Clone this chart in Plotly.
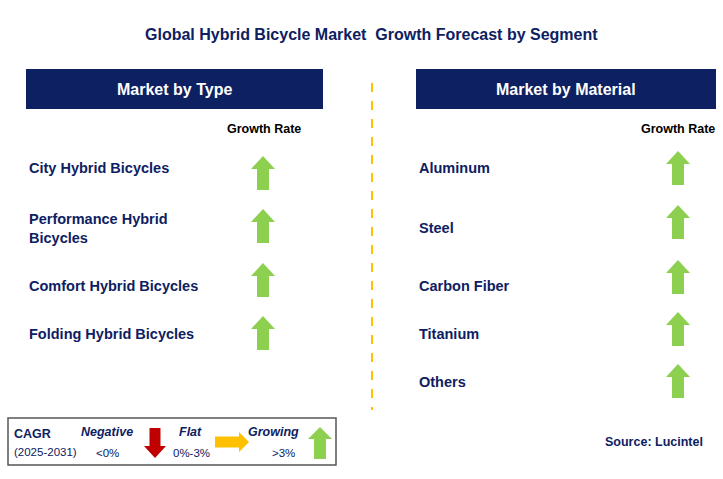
import plotly.graph_objects as go

title = "Global Hybrid Bicycle Market  Growth Forecast by Segment"
left_header = "Market by Type"
right_header = "Market by Material"
type_items = ["City Hybrid Bicycles", "Performance Hybrid<br>Bicycles", "Comfort Hybrid Bicycles", "Folding Hybrid Bicycles"]
type_trend = ["up", "up", "up", "up"]
material_items = ["Aluminum", "Steel", "Carbon Fiber", "Titanium", "Others"]
material_trend = ["up", "up", "up", "up", "up"]

NAVY = "#0d2061"
GREEN = "#8dd04f"
RED = "#c00000"
YEL = "#ffc000"
F = "Liberation Sans"

W, H = 723, 479
fig = go.Figure()
shapes, ann = [], []

def text(x, y, s, size=14, color=NAVY, bold=True, italic=False, xanchor="left", col=None):
    if bold: s = "<b>" + s + "</b>"
    if italic: s = "<i>" + s + "</i>"
    ann.append(dict(x=x, y=y, text=s, showarrow=False, xanchor=xanchor, yanchor="middle",
                    xshift=-2 if xanchor == "left" else (2 if xanchor == "right" else 0),
                    align="left", font=dict(family=F, size=size, color=col or color)))

def arrow(cx, cy, d, color, h=34, w=24, sw=12, hh=13):
    if d == "up":
        t, b = cy - h/2, cy + h/2
        p = f"M{cx},{t} L{cx+w/2},{t+hh} L{cx+sw/2},{t+hh} L{cx+sw/2},{b} L{cx-sw/2},{b} L{cx-sw/2},{t+hh} L{cx-w/2},{t+hh} Z"
    elif d == "down":
        t, b = cy - h/2, cy + h/2
        p = f"M{cx},{b} L{cx+w/2},{b-hh} L{cx+sw/2},{b-hh} L{cx+sw/2},{t} L{cx-sw/2},{t} L{cx-sw/2},{b-hh} L{cx-w/2},{b-hh} Z"
    else:
        l, r = cx - h/2, cx + h/2
        p = f"M{r},{cy} L{r-hh},{cy-w/2} L{r-hh},{cy-sw/2} L{l},{cy-sw/2} L{l},{cy+sw/2} L{r-hh},{cy+sw/2} L{r-hh},{cy+w/2} Z"
    shapes.append(dict(type="path", path=p, fillcolor=color, line=dict(width=0), xref="x", yref="y"))

text(W/2 + 10, 34, title, size=16, xanchor="center")
for x0, x1, s in [(26, 323, left_header), (416, 716, right_header)]:
    shapes.append(dict(type="rect", x0=x0, x1=x1, y0=69, y1=109, fillcolor=NAVY, line=dict(width=0)))
    text((x0+x1)/2, 89, s, size=16, color="white", xanchor="center")
text(264, 129, "Growth Rate", size=12.5, color="black", xanchor="center")
text(678, 129, "Growth Rate", size=12.5, color="black", xanchor="center")

ly = [168, 228, 286, 334]
ay = [173, 226, 280, 333]
for s, d, y, a in zip(type_items, type_trend, ly, ay):
    text(29, y, s, size=14.5)
    arrow(263, a, d, GREEN)
ry = [168, 228, 286, 334, 382]
ray = [168, 222, 277, 329, 381]
for s, d, y, a in zip(material_items, material_trend, ry, ray):
    text(419, y, s, size=14.5)
    arrow(678, a, d, GREEN)

shapes.append(dict(type="line", x0=372, x1=372, y0=83, y1=410, line=dict(color=YEL, width=2, dash="dash")))
text(703, 442, "Source: Lucintel", size=12.5, color=NAVY, xanchor="right")

shapes.append(dict(type="rect", x0=8, x1=336, y0=418, y1=465, fillcolor="white", line=dict(color="#555", width=1.5)))
text(14, 434, "CAGR", size=12.5)
text(14, 452, "(2025-2031)", size=11.5, bold=False)
text(107, 432, "Negative", size=12.5, italic=True, xanchor="center")
text(107, 453, "&lt;0%", size=11.5, bold=False, xanchor="center")
arrow(155, 443, "down", RED, h=30, w=22, sw=11, hh=12)
text(190, 432, "Flat", size=12.5, italic=True, xanchor="center")
text(191, 453, "0%-3%", size=11.5, bold=False, xanchor="center")
arrow(232, 442, "right", YEL, h=34, w=20, sw=11, hh=10)
text(273, 432, "Growing", size=12.5, italic=True, xanchor="center")
text(283, 453, "&gt;3%", size=11.5, bold=False, xanchor="center")
arrow(320, 443, "up", GREEN, h=32, w=24, sw=12, hh=12)

fig.update_layout(width=W, height=H, margin=dict(l=0, r=0, t=0, b=0),
                  paper_bgcolor="white", plot_bgcolor="white", showlegend=False,
                  shapes=shapes, annotations=ann,
                  xaxis=dict(range=[0, W], visible=False, fixedrange=True),
                  yaxis=dict(range=[H, 0], visible=False, fixedrange=True))
fig.write_html("out.html", config={"displayModeBar": False},
               post_script="document.body.style.margin='0';document.body.style.overflow='hidden';")
